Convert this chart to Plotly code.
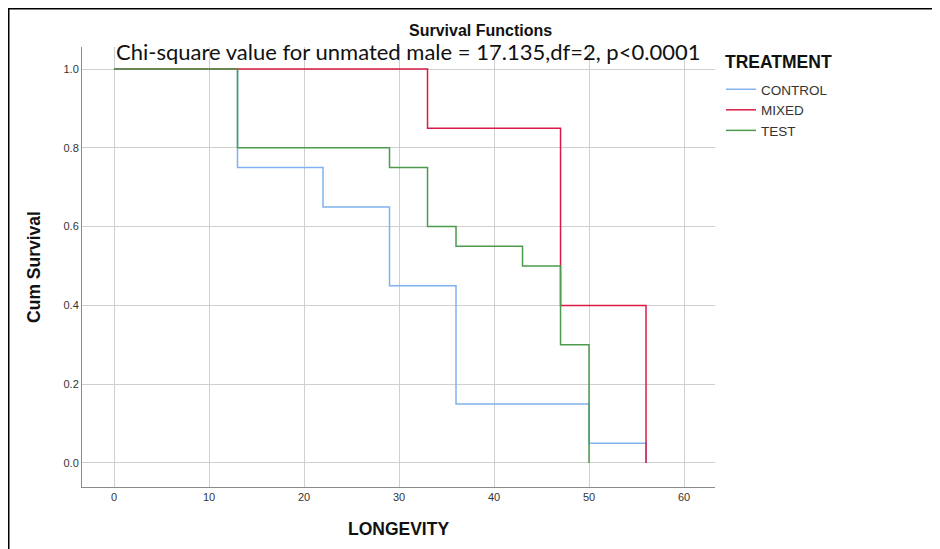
import plotly.graph_objects as go

# Data (Kaplan-Meier step points)
control_t = [0, 13, 22, 29, 36, 50, 56]
control_s = [1.0, 0.75, 0.65, 0.45, 0.15, 0.05, 0.0]
mixed_t = [0, 33, 47, 56]
mixed_s = [1.0, 0.85, 0.40, 0.0]
test_t = [0, 13, 29, 33, 36, 43, 47, 50]
test_s = [1.0, 0.80, 0.75, 0.60, 0.55, 0.50, 0.30, 0.0]

x_ticks = [0, 10, 20, 30, 40, 50, 60]
y_ticks = [0.0, 0.2, 0.4, 0.6, 0.8, 1.0]

series = [
    ("CONTROL", control_t, control_s, "#7fb2ee"),
    ("MIXED", mixed_t, mixed_s, "#d81b46"),
    ("TEST", test_t, test_s, "#4c9a4c"),
]

fig = go.Figure()
for name, t, s, c in series:
    fig.add_trace(go.Scatter(x=t, y=s, mode="lines", name=name,
                             line=dict(color=c, width=1.5, shape="hv")))

# page body has an 8px margin; plot area in screen pixels: x 82..715, y 47..487
OFF = 8
SL, SR, ST, SB = 82, 715, 47, 487
W, H = 940 - OFF, 549 - OFF
L, T = SL - OFF, ST - OFF
R, B = W - (SR - OFF), H - (SB - OFF)
pw, ph = SR - SL, SB - ST

def px(x):
    return (x - SL) / pw

def py(y):
    return (SB - y) / ph

fig.update_layout(
    width=W, height=H,
    margin=dict(l=L, r=R, t=T, b=B),
    plot_bgcolor="white", paper_bgcolor="white",
    font=dict(family="Liberation Sans, Arial", size=11, color="#333333"),
    showlegend=True,
    legend=dict(
        x=px(721), y=py(74), xanchor="left", yanchor="top",
        font=dict(size=13.5, color="#333333"),
        tracegroupgap=0, itemwidth=30,
        bgcolor="rgba(0,0,0,0)",
    ),
    xaxis=dict(
        range=[-3.37, 63.26], tickvals=x_ticks, showgrid=True,
        gridcolor="#cfcfcf", gridwidth=1, zeroline=False,
        showline=True, linecolor="#8a8a8a", linewidth=1, ticks="",
        title=dict(text="<b>LONGEVITY</b>", font=dict(size=17.5, color="#111111"), standoff=20),
    ),
    yaxis=dict(
        range=[-0.061, 1.056], tickvals=y_ticks, tickformat=".1f", showgrid=True,
        gridcolor="#cfcfcf", gridwidth=1, zeroline=False,
        showline=True, linecolor="#8a8a8a", linewidth=1, ticks="",
        title=dict(text="<b>Cum Survival</b>", font=dict(size=17.5, color="#111111"), standoff=18),
    ),
    annotations=[
        dict(text="<b>Survival Functions</b>", xref="paper", yref="paper",
             x=px(480), y=py(31), xanchor="center", yanchor="middle",
             showarrow=False, font=dict(size=16, color="#111111")),
        dict(text="Chi-square value for unmated male = 17.135,df=2, p<0.0001",
             xref="paper", yref="paper", x=px(114), y=py(52), xanchor="left",
             yanchor="middle", showarrow=False,
             font=dict(family="Lato, Open Sans", size=22, color="#111111")),
        dict(text="<b>TREATMENT</b>", xref="paper", yref="paper",
             x=px(723), y=py(62), xanchor="left", yanchor="middle",
             showarrow=False, font=dict(size=17.5, color="#111111")),
    ],
    shapes=[
        dict(type="line", xref="paper", yref="paper", x0=px(8), x1=px(8),
             y0=py(8), y1=py(560), line=dict(color="black", width=3)),
        dict(type="line", xref="paper", yref="paper", x0=px(8), x1=px(950),
             y0=py(8), y1=py(8), line=dict(color="black", width=3)),
    ],
)

fig.write_html("out.html")
